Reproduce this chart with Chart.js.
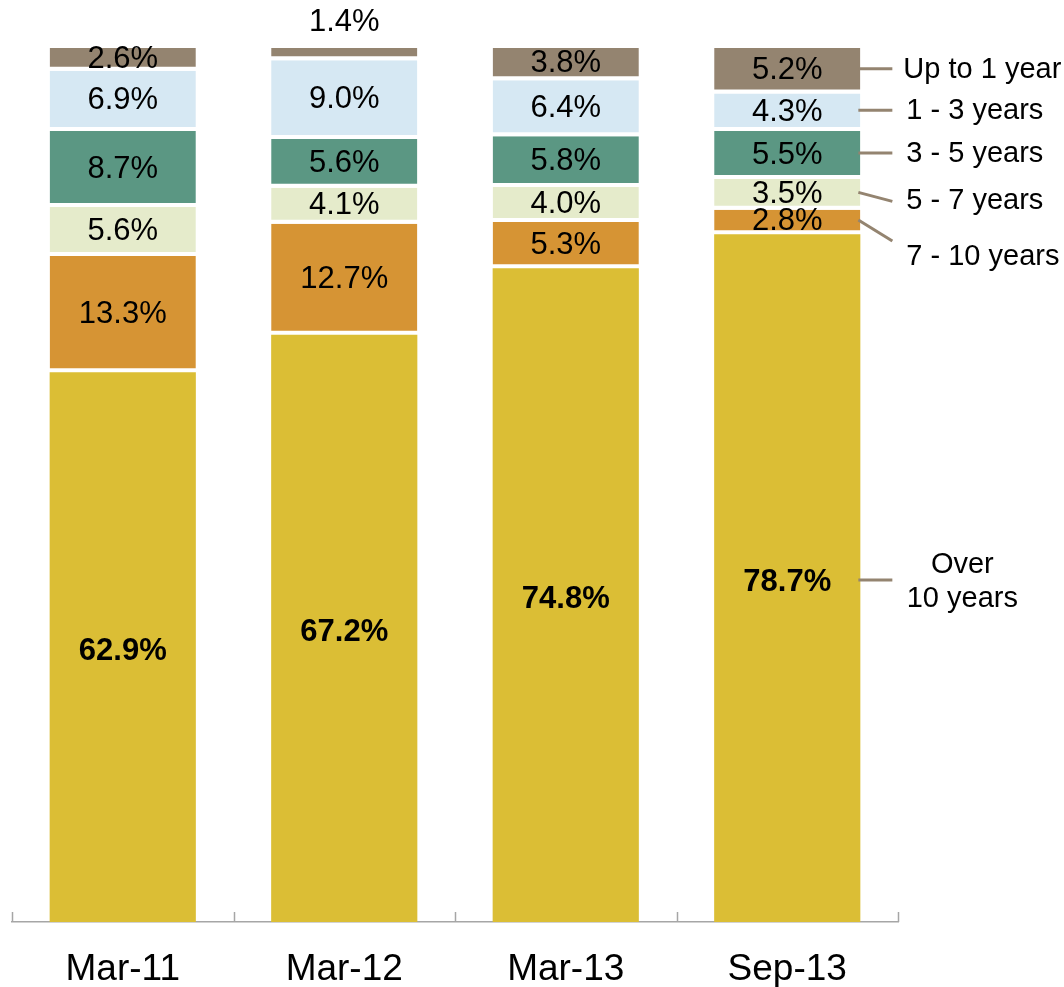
<!DOCTYPE html>
<html>
<head>
<meta charset="utf-8">
<script src="https://cdn.jsdelivr.net/npm/chart.js@4.4.1/dist/chart.umd.min.js"></script>
<style>
  html, body { margin: 0; padding: 0; background: #ffffff; }
  #wrap { width: 1064px; height: 987px; }
</style>
</head>
<body>
<div id="wrap"><canvas id="maturityChart" width="1064" height="987"></canvas></div>
<script>
// Periods on the x axis
const periods = ['Mar-11', 'Mar-12', 'Mar-13', 'Sep-13'];

// Share of portfolio by residual maturity (%), bottom of stack first
const over10Years = [62.9, 67.2, 74.8, 78.7];
const years7to10 = [13.3, 12.7, 5.3, 2.8];
const years5to7 = [5.6, 4.1, 4.0, 3.5];
const years3to5 = [8.7, 5.6, 5.8, 5.5];
const years1to3 = [6.9, 9.0, 6.4, 4.3];
const upTo1Year = [2.6, 1.4, 3.8, 5.2];

const seriesNames = ['Over\n10 years', '7 - 10 years', '5 - 7 years', '3 - 5 years', '1 - 3 years', 'Up to 1 year'];
const seriesValues = [over10Years, years7to10, years5to7, years3to5, years1to3, upTo1Year];
const seriesColors = ['#DBBE35', '#D69434', '#E5EBCB', '#5B9783', '#D6E8F3', '#948470'];

const FONT = '"Liberation Sans", Arial, sans-serif';
const GAP = 4;

// label offsets next to the last bar (label y shift, leader line end shift)
const sideLabelShift = [2, 36, 8, 0, 0, 0];
const sideLineShift = [2, 21, 9, 0, 0, 0];

const datasets = seriesValues.map(function (vals, i) {
    return {
        label: seriesNames[i],
        data: vals,
        backgroundColor: seriesColors[i],
        borderColor: '#ffffff',
        borderWidth: i === 0 ? 0 : { bottom: GAP },
        borderSkipped: false,
        barPercentage: 0.66,
        categoryPercentage: 1
    };
});

// values written inside each segment
const segmentLabels = {
    id: 'segmentLabels',
    afterDatasetsDraw(chart) {
        const ctx = chart.ctx;
        ctx.save();
        ctx.textAlign = 'center';
        ctx.textBaseline = 'middle';
        ctx.fillStyle = '#000000';
        chart.data.datasets.forEach(function (ds, i) {
            const meta = chart.getDatasetMeta(i);
            meta.data.forEach(function (bar, j) {
                const v = ds.data[j];
                const gap = i === 0 ? 0 : GAP;
                let y = (bar.y + bar.base - gap) / 2;
                if (v < 2) y = bar.y - 28;
                ctx.font = (i === 0 ? 'bold ' : '') + '31px ' + FONT;
                ctx.fillText(v.toFixed(1) + '%', bar.x, y + (i === 0 ? 4 : 2));
            });
        });
        ctx.restore();
    }
};

// series names with leader lines beside the last bar
const sideLabels = {
    id: 'sideLabels',
    afterDraw(chart) {
        const ctx = chart.ctx;
        ctx.save();
        ctx.strokeStyle = '#948470';
        ctx.lineWidth = 3;
        ctx.fillStyle = '#000000';
        ctx.font = '29px ' + FONT;
        ctx.textBaseline = 'middle';
        chart.data.datasets.forEach(function (ds, i) {
            const meta = chart.getDatasetMeta(i);
            const bar = meta.data[meta.data.length - 1];
            const gap = i === 0 ? 0 : GAP;
            const yc = (bar.y + bar.base - gap) / 2;
            const x0 = bar.x + bar.width / 2 - 2;
            const x1 = x0 + 34;
            ctx.beginPath();
            ctx.moveTo(x0, i === 0 ? yc + 2 : yc);
            ctx.lineTo(x1, yc + sideLineShift[i]);
            ctx.stroke();
            const lines = ds.label.split('\n');
            const ly = yc + sideLabelShift[i] + 1;
            if (lines.length > 1) {
                ctx.textAlign = 'center';
                ctx.fillText(lines[0], x1 + 70, ly - 16);
                ctx.fillText(lines[1], x1 + 70, ly + 18);
            } else {
                ctx.textAlign = 'left';
                ctx.fillText(lines[0], x1 + (i === 5 ? 11 : 14), ly);
            }
        });
        ctx.restore();
    }
};

// short upward tick marks between categories
const categoryTicks = {
    id: 'categoryTicks',
    afterDraw(chart) {
        const xs = chart.scales.x;
        const ctx = chart.ctx;
        const n = chart.data.labels.length;
        ctx.save();
        ctx.strokeStyle = '#a6a6a6';
        ctx.lineWidth = 1.5;
        for (let i = 0; i <= n; i++) {
            const x = Math.round(xs.left + i * xs.width / n) + 0.5;
            ctx.beginPath();
            ctx.moveTo(x, xs.top - 10);
            ctx.lineTo(x, xs.top);
            ctx.stroke();
        }
        ctx.restore();
    }
};

new Chart(document.getElementById('maturityChart'), {
    type: 'bar',
    data: { labels: periods, datasets: datasets },
    options: {
        responsive: false,
        animation: false,
        layout: { padding: { left: 12, right: 166, top: 48, bottom: 0 } },
        plugins: {
            legend: { display: false },
            tooltip: { enabled: false }
        },
        scales: {
            x: {
                stacked: true,
                grid: { display: false },
                border: { display: true, color: '#a6a6a6', width: 1.5 },
                ticks: {
                    color: '#000000',
                    font: { family: FONT, size: 37 },
                    padding: 18
                },
                afterFit(scale) {
                    scale.height = 65;
                }
            },
            y: {
                stacked: true,
                display: false,
                min: 0,
                max: 100
            }
        }
    },
    plugins: [segmentLabels, sideLabels, categoryTicks]
});
</script>
</body>
</html>
